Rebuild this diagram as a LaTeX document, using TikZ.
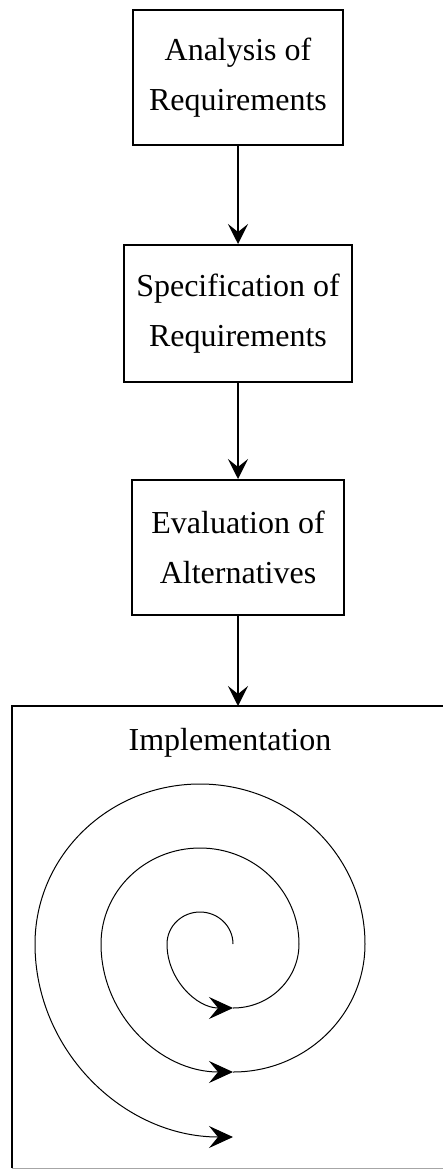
\documentclass[tikz,border=0pt]{standalone}
\usepackage{fontspec}
\setmainfont{Liberation Serif}
\usetikzlibrary{arrows.meta}

\begin{document}
\begin{tikzpicture}
      [x=1pt, y=-1pt,
        >={Stealth[length=20pt, width=20pt, inset=8pt]},
        element/.style={
          rectangle,
          draw=black, line width=2pt,
          minimum width=210pt,
          minimum height=135pt,
          align=center,
          font=\fontsize{32}{50}\selectfont},
        line/.style={draw, line width=2pt, ->},
        spiral/.style={draw, line width=1pt,
          >={Stealth[length=24pt, width=22pt, inset=9pt]}}]
      \useasboundingbox (0,0) rectangle (442,1169);
      \node[element] (analysis) at (238,77.5) {Analysis of\\Requirements};
      \node[element, minimum width=228pt, minimum height=137pt] (specification) at (238,313.5) {Specification of\\Requirements};
      \node[element, minimum width=212pt] (evaluation) at (238,547.5) {Evaluation of\\Alternatives};
      \node[minimum width=500pt, minimum height=460pt, outer sep=1pt] (implementation) at (263,937) {};
      \node[font=\fontsize{32}{50}\selectfont] (implabel) at (230,743) {Implementation};
      \draw[line width=2pt] (implementation.south west) -- (implementation.north west)
        -- (implementation.north east);
      \draw[line width=1pt, black!35] (implementation.south west) -- (implementation.south east);
      \path[line] (analysis) -- (specification);
      \path[line] (specification) -- (evaluation);
      \path[line] (evaluation) -- (evaluation.south |- implementation.north);
      % spiral inside the implementation box
      \path[spiral, ->] (233,944)
        arc[start angle=0, end angle=-180, x radius=33, y radius=32]
        arc[start angle=180, end angle=90, x radius=66, y radius=64];
      \path[spiral, ->] (233,1008)
        arc[start angle=90, end angle=0, x radius=66, y radius=64]
        arc[start angle=0, end angle=-180, x radius=99, y radius=96]
        arc[start angle=180, end angle=90, x radius=132, y radius=128];
      \path[spiral, ->] (233,1072)
        arc[start angle=90, end angle=0, x radius=132, y radius=128]
        arc[start angle=0, end angle=-180, x radius=165, y radius=160]
        arc[start angle=180, end angle=90, x radius=198, y radius=193];
    \end{tikzpicture}
\end{document}
